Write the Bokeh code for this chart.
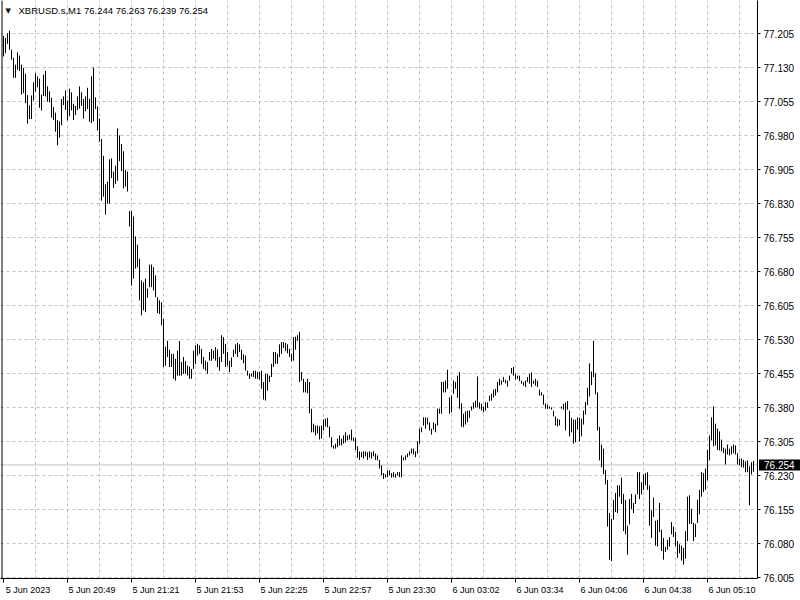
from bokeh.plotting import figure
from bokeh.models import (FixedTicker, Span, Label, Range1d, ColumnDataSource,
                          PrintfTickFormatter, LinearAxis)
from bokeh.embed import file_html
from bokeh.resources import INLINE

symbol = "XBRUSD.s,M1"
last_ohlc = [76.244, 76.263, 76.239, 76.254]

highs = [
    77.200, 77.196, 77.206, 77.212, 77.170, 77.152, 77.137, 77.164, 77.157, 77.137,
    77.130, 77.117, 77.070, 77.047, 77.069, 77.098, 77.118, 77.111, 77.106, 77.071,
    77.115, 77.123, 77.089, 77.078, 77.064, 77.043, 77.031, 77.015, 77.012, 77.061,
    77.067, 77.080, 77.058, 77.084, 77.076, 77.051, 77.046, 77.067, 77.089, 77.076,
    77.061, 77.067, 77.086, 77.062, 77.111, 77.131, 77.065, 77.045, 77.018, 76.973,
    76.936, 76.873, 76.879, 76.928, 76.930, 76.901, 76.914, 76.996, 76.981, 76.962,
    76.946, 76.905, 76.901, 76.814, 76.814, 76.802, 76.758, 76.740, 76.709, 76.661,
    76.657, 76.665, 76.643, 76.696, 76.696, 76.690, 76.672, 76.624, 76.617, 76.613,
    76.576, 76.515, 76.528, 76.508, 76.499, 76.499, 76.488, 76.506, 76.527, 76.481,
    76.492, 76.483, 76.473, 76.471, 76.466, 76.506, 76.518, 76.521, 76.518, 76.510,
    76.492, 76.484, 76.481, 76.503, 76.510, 76.506, 76.514, 76.509, 76.492, 76.540,
    76.536, 76.521, 76.503, 76.484, 76.491, 76.508, 76.520, 76.523, 76.520, 76.508,
    76.498, 76.495, 76.462, 76.455, 76.456, 76.462, 76.462, 76.459, 76.459, 76.462,
    76.437, 76.455, 76.455, 76.451, 76.477, 76.503, 76.503, 76.499, 76.520, 76.525,
    76.525, 76.523, 76.520, 76.510, 76.499, 76.536, 76.537, 76.540, 76.547, 76.459,
    76.444, 76.437, 76.444, 76.437, 76.378, 76.345, 76.341, 76.341, 76.339, 76.341,
    76.354, 76.356, 76.358, 76.339, 76.315, 76.297, 76.301, 76.312, 76.319, 76.312,
    76.319, 76.326, 76.319, 76.321, 76.332, 76.314, 76.314, 76.295, 76.284, 76.282,
    76.284, 76.284, 76.282, 76.284, 76.282, 76.284, 76.279, 76.275, 76.265, 76.253,
    76.236, 76.234, 76.242, 76.242, 76.236, 76.238, 76.234, 76.238, 76.238, 76.275,
    76.271, 76.275, 76.279, 76.284, 76.290, 76.290, 76.284, 76.306, 76.334, 76.337,
    76.359, 76.359, 76.358, 76.348, 76.334, 76.348, 76.345, 76.378, 76.378, 76.437,
    76.437, 76.440, 76.464, 76.403, 76.407, 76.440, 76.437, 76.451, 76.459, 76.390,
    76.367, 76.372, 76.374, 76.374, 76.383, 76.392, 76.396, 76.449, 76.392, 76.389,
    76.383, 76.392, 76.392, 76.407, 76.411, 76.420, 76.422, 76.437, 76.444, 76.440,
    76.448, 76.442, 76.440, 76.451, 76.468, 76.470, 76.455, 76.451, 76.451, 76.440,
    76.437, 76.440, 76.448, 76.455, 76.458, 76.440, 76.444, 76.440, 76.420, 76.414,
    76.409, 76.390, 76.387, 76.383, 76.381, 76.373, 76.361, 76.356, 76.354, 76.383,
    76.389, 76.392, 76.395, 76.373, 76.358, 76.354, 76.354, 76.359, 76.358, 76.356,
    76.374, 76.393, 76.424, 76.478, 76.460, 76.528, 76.456, 76.414, 76.338, 76.299,
    76.290, 76.243, 76.221, 76.148, 76.135, 76.177, 76.192, 76.209, 76.209, 76.226,
    76.190, 76.177, 76.120, 76.179, 76.190, 76.170, 76.189, 76.238, 76.238, 76.216,
    76.233, 76.236, 76.238, 76.209, 76.154, 76.182, 76.131, 76.133, 76.170, 76.111,
    76.093, 76.073, 76.089, 76.095, 76.128, 76.118, 76.106, 76.086, 76.079, 76.076,
    76.071, 76.108, 76.184, 76.187, 76.157, 76.126, 76.124, 76.177, 76.199, 76.238,
    76.236, 76.246, 76.287, 76.319, 76.359, 76.383, 76.345, 76.334, 76.328, 76.310,
    76.292, 76.290, 76.299, 76.290, 76.295, 76.299, 76.297, 76.280, 76.268, 76.268,
    76.265, 76.262, 76.264, 76.251, 76.260, 76.263,
]

lows = [
    77.155, 77.162, 77.183, 77.170, 77.148, 77.108, 77.108, 77.126, 77.123, 77.071,
    77.074, 77.052, 77.007, 77.017, 77.017, 77.058, 77.078, 77.087, 77.042, 77.036,
    77.068, 77.067, 77.055, 77.054, 77.020, 77.015, 76.989, 76.959, 76.976, 77.003,
    77.048, 77.037, 77.014, 77.023, 77.036, 77.015, 77.026, 77.037, 77.040, 77.046,
    77.018, 77.034, 77.039, 77.011, 77.008, 77.012, 77.039, 76.992, 76.967, 76.837,
    76.846, 76.806, 76.830, 76.831, 76.887, 76.865, 76.874, 76.881, 76.924, 76.902,
    76.864, 76.868, 76.857, 76.780, 76.650, 76.665, 76.687, 76.690, 76.617, 76.584,
    76.595, 76.591, 76.623, 76.646, 76.646, 76.639, 76.624, 76.589, 76.587, 76.562,
    76.470, 76.473, 76.492, 76.470, 76.470, 76.444, 76.440, 76.451, 76.451, 76.451,
    76.455, 76.455, 76.451, 76.444, 76.444, 76.466, 76.477, 76.495, 76.499, 76.477,
    76.466, 76.462, 76.455, 76.484, 76.484, 76.488, 76.484, 76.470, 76.462, 76.481,
    76.499, 76.470, 76.473, 76.459, 76.470, 76.492, 76.499, 76.492, 76.503, 76.486,
    76.478, 76.462, 76.451, 76.444, 76.449, 76.448, 76.444, 76.444, 76.442, 76.422,
    76.398, 76.396, 76.418, 76.437, 76.448, 76.470, 76.477, 76.477, 76.492, 76.499,
    76.512, 76.505, 76.500, 76.492, 76.483, 76.484, 76.508, 76.528, 76.437, 76.440,
    76.414, 76.414, 76.412, 76.368, 76.326, 76.326, 76.319, 76.323, 76.310, 76.312,
    76.330, 76.339, 76.337, 76.315, 76.293, 76.290, 76.290, 76.293, 76.297, 76.297,
    76.301, 76.304, 76.308, 76.310, 76.308, 76.306, 76.287, 76.270, 76.265, 76.271,
    76.268, 76.273, 76.265, 76.270, 76.268, 76.273, 76.265, 76.264, 76.246, 76.231,
    76.223, 76.226, 76.227, 76.231, 76.226, 76.227, 76.226, 76.231, 76.227, 76.227,
    76.264, 76.265, 76.271, 76.275, 76.279, 76.277, 76.271, 76.279, 76.301, 76.326,
    76.341, 76.334, 76.343, 76.330, 76.321, 76.332, 76.326, 76.341, 76.367, 76.367,
    76.414, 76.414, 76.422, 76.367, 76.370, 76.411, 76.422, 76.402, 76.378, 76.338,
    76.337, 76.343, 76.348, 76.358, 76.374, 76.378, 76.381, 76.381, 76.378, 76.374,
    76.370, 76.374, 76.380, 76.395, 76.396, 76.403, 76.407, 76.414, 76.429, 76.431,
    76.437, 76.434, 76.427, 76.440, 76.456, 76.451, 76.442, 76.444, 76.439, 76.433,
    76.429, 76.426, 76.437, 76.433, 76.426, 76.433, 76.429, 76.426, 76.407, 76.407,
    76.387, 76.378, 76.378, 76.378, 76.376, 76.361, 76.341, 76.339, 76.341, 76.378,
    76.376, 76.330, 76.376, 76.317, 76.326, 76.301, 76.304, 76.332, 76.306, 76.317,
    76.343, 76.365, 76.386, 76.405, 76.430, 76.448, 76.410, 76.330, 76.264, 76.249,
    76.234, 76.211, 76.118, 76.045, 76.042, 76.133, 76.150, 76.148, 76.184, 76.168,
    76.108, 76.101, 76.056, 76.123, 76.157, 76.148, 76.168, 76.189, 76.179, 76.189,
    76.199, 76.209, 76.199, 76.120, 76.093, 76.139, 76.076, 76.074, 76.106, 76.064,
    76.045, 76.062, 76.067, 76.074, 76.101, 76.095, 76.075, 76.049, 76.059, 76.043,
    76.034, 76.047, 76.086, 76.124, 76.124, 76.086, 76.095, 76.126, 76.145, 76.184,
    76.194, 76.199, 76.220, 76.264, 76.308, 76.295, 76.297, 76.287, 76.286, 76.284,
    76.280, 76.255, 76.277, 76.275, 76.277, 76.280, 76.277, 76.255, 76.253, 76.249,
    76.248, 76.238, 76.238, 76.165, 76.233, 76.239,
]

time_tick_bars = [0, 32, 64, 96, 128, 160, 192, 224, 256, 288, 320, 352]
time_labels = ["5 Jun 2023", "5 Jun 20:49", "5 Jun 21:21", "5 Jun 21:53",
               "5 Jun 22:25", "5 Jun 22:57", "5 Jun 23:30", "6 Jun 03:02",
               "6 Jun 03:34", "6 Jun 04:06", "6 Jun 04:38", "6 Jun 05:10"]
price_ticks = [77.205, 77.130, 77.055, 76.980, 76.905, 76.830, 76.755, 76.680,
               76.605, 76.530, 76.455, 76.380, 76.305, 76.230, 76.155, 76.080, 76.005]

FONT = "Liberation Sans"
GRID = "#c0c0c0"
LABEL_SHIFT = 12.25   # label centre offset (in bars) so texts start at their tick

n = len(highs)
src = ColumnDataSource(data=dict(i=list(range(n)), high=highs, low=lows))

p = figure(frame_width=757, frame_height=578,
           x_range=Range1d(-1.5, 377.0), y_range=Range1d(76.0035, 77.2785),
           output_backend="svg", toolbar_location=None, y_axis_location="right",
           min_border_left=0, min_border_top=0, min_border_right=43, min_border_bottom=22,
           background_fill_color="white", border_fill_color="white")
p.outline_line_color = None

# grids
p.xgrid.ticker = FixedTicker(ticks=list(range(16, 376, 16)))
p.ygrid.ticker = FixedTicker(ticks=price_ticks)
for g in (p.xgrid[0], p.ygrid[0]):
    g.grid_line_color = GRID
    g.grid_line_dash = "3 3"
    g.grid_line_width = 1

# x axis: line + tick marks only (labels not drawn)
xa = p.xaxis[0]
xa.ticker = FixedTicker(ticks=time_tick_bars)
xa.axis_line_color = "black"
xa.major_tick_line_color = "black"
xa.major_tick_out = 4
xa.major_tick_in = 0
xa.minor_tick_line_color = None
xa.major_label_standoff = 0
xa.major_label_text_font_size = "1px"
xa.major_label_text_color = None

# x axis labels, starting at their tick
label_ticks = [b + LABEL_SHIFT for b in time_tick_bars]
xl = LinearAxis(ticker=FixedTicker(ticks=label_ticks),
                major_label_overrides={t: s for t, s in zip(label_ticks, time_labels)},
                axis_line_color=None, major_tick_line_color=None, minor_tick_line_color=None,
                major_tick_out=0, major_tick_in=0, major_label_standoff=2,
                major_label_text_font=FONT, major_label_text_font_size="9px",
                major_label_text_color="black")
p.add_layout(xl, "below")

# y axis (right)
ya = p.yaxis[0]
ya.ticker = FixedTicker(ticks=price_ticks)
ya.formatter = PrintfTickFormatter(format="%.3f")
ya.axis_line_color = "black"
ya.major_tick_line_color = "black"
ya.major_tick_out = 3
ya.major_tick_in = 0
ya.minor_tick_line_color = None
ya.major_label_standoff = 3
ya.major_label_text_font = FONT
ya.major_label_text_font_size = "10px"
ya.major_label_text_color = "black"

# current price line and left border
p.add_layout(Span(location=last_ohlc[3], dimension="width", line_color=GRID,
                  line_width=1, level="underlay"))
p.add_layout(Span(location=-0.75, dimension="height", line_color="black", line_width=1))

# bars (high-low)
p.segment(x0="i", y0="low", x1="i", y1="high", source=src, line_color="black", line_width=1)

# header
p.add_layout(Label(x=1.0, y=77.2564, text="\u25bc", text_font="DejaVu Sans",
                   text_font_size="7px", text_color="black", text_baseline="middle"))
p.add_layout(Label(x=7.5, y=77.2564,
                   text=symbol + "  " + " ".join(f"{v:.3f}" for v in last_ohlc),
                   text_font=FONT, text_font_size="9.5px", text_color="black",
                   text_baseline="middle"))

# current price tag on the price axis (placed in the right side panel so it is not clipped)
tag = Label(x=377.75, y=last_ohlc[3], text=f"{last_ohlc[3]:.3f}",
            text_font=FONT, text_font_size="10px", text_color="white",
            background_fill_color="black", text_baseline="middle", text_align="left",
            padding=dict(left=5, right=8, top=2, bottom=1))
p.add_layout(tag, "right")

open("out.html", "w").write(file_html(p, INLINE))
